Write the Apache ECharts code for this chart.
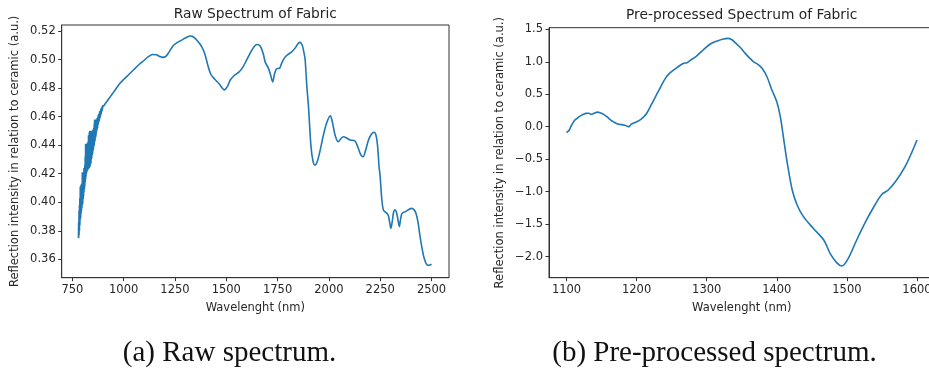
<!DOCTYPE html>
<html><head><meta charset="utf-8">
<script src="https://cdn.jsdelivr.net/npm/echarts@6/dist/echarts.min.js"></script>
<style>html,body{margin:0;padding:0;background:#fff;overflow:hidden}#c{width:929px;height:369px}</style>
</head><body><div id="c"></div>
<script>
// ---------- data ----------
const rawTitle = 'Raw Spectrum of Fabric';
const preTitle = 'Pre-processed Spectrum of Fabric';
const xName = 'Wavelenght (nm)';
const yName = 'Reflection intensity in relation to ceramic (a.u.)';
const captionA = '(a) Raw spectrum.';
const captionB = '(b) Pre-processed spectrum.';

// noisy start of the raw spectrum, sampled every 1 nm from 780 nm
const rawNoisyStart = 780;
const rawNoisyValues = [
  0.375,0.386,0.377,0.394,0.380,0.398,0.384,0.403,0.388,0.411,
  0.389,0.406,0.392,0.412,0.394,0.413,0.396,0.410,0.398,0.421,
  0.399,0.417,0.402,0.421,0.404,0.418,0.407,0.424,0.409,0.422,
  0.411,0.426,0.414,0.432,0.416,0.441,0.418,0.438,0.420,0.441,
  0.421,0.439,0.422,0.441,0.423,0.442,0.424,0.440,0.423,0.447,
  0.425,0.444,0.424,0.449,0.426,0.450,0.425,0.447,0.428,0.450,
  0.427,0.448,0.430,0.449,0.431,0.447,0.433,0.450,0.434,0.448,
  0.436,0.451,0.437,0.449,0.439,0.452,0.440,0.455,0.442,0.458,
  0.443,0.455,0.445,0.457,0.446,0.456,0.448,0.458,0.450,0.457,
  0.451,0.459,0.452,0.458,0.454,0.460,0.455,0.461,0.456,0.462,
  0.457,0.462,0.458,0.463,0.459,0.464,0.460,0.464,0.461,0.465,
  0.462,0.466,0.463,0.466,0.464,0.467,0.465,0.467,0.466,0.468,
  0.467
];
// smooth remainder of the raw spectrum
const rawWavelengths = [900,910,920,935,950,965,980,1000,1025,1050,1075,1100,1120,1140,1160,1175,1190,1205,1220,1240,
  1260,1285,1305,1325,1340,1360,1380,1395,1410,1425,1445,1465,1480,1490,1505,1520,1540,1560,1580,1600,
  1620,1635,1650,1665,1680,1690,1705,1715,1726,1735,1745,1760,1770,1785,1800,1820,1835,1850,1859,1870,
  1878,1884,1892,1901,1912,1922,1932,1942,1955,1973,1990,2007,2017,2030,2046,2058,2070,2088,2103,2127,
  2143,2156,2166,2178,2192,2206,2220,2230,2238,2244,2249,2257,2265,2275,2284,2291,2297,2302,2308,2315,
  2322,2329,2336,2343,2349,2356,2370,2385,2403,2414,2424,2434,2443,2452,2460,2468,2476,2484,2492,2500];
const rawValues = [0.467,0.469,0.471,0.474,0.477,0.480,0.483,0.486,0.4895,0.4930,0.4965,0.4995,0.5020,0.5035,0.5033,0.5022,0.5015,0.5022,0.5050,0.5095,
  0.5118,0.5138,0.5155,0.5165,0.5158,0.5130,0.5090,0.5040,0.4960,0.4895,0.4860,0.4830,0.4800,0.4787,0.4810,0.4858,0.4890,0.4910,0.4945,0.5000,
  0.5055,0.5090,0.5105,0.5095,0.5040,0.4980,0.4940,0.4895,0.4843,0.4900,0.4935,0.4940,0.4975,0.5015,0.5035,0.5055,0.5080,0.5112,0.5120,0.5100,
  0.5050,0.5000,0.4820,0.4658,0.4400,0.4290,0.4260,0.4280,0.4350,0.4470,0.4560,0.4606,0.4560,0.4470,0.4424,0.4445,0.4459,0.4448,0.4436,0.4429,
  0.4378,0.4330,0.4319,0.4360,0.4433,0.4475,0.4490,0.4465,0.4380,0.4250,0.4190,0.4030,0.3946,0.3930,0.3920,0.3898,0.3850,0.3817,0.3860,0.3930,
  0.3946,0.3930,0.3880,0.3829,0.3880,0.3922,0.3932,0.3945,0.3957,0.3948,0.3922,0.3860,0.3770,0.3690,0.3630,0.3590,0.3565,0.3557,0.3560,0.3565];

const preWavelengths = [1100,1104,1107,1111,1114,1118,1121,1125,1128,1132,1135,1137,1140,1144,1148,1153,1158,1163,1168,1173,
  1177,1182,1186,1189,1192,1197,1201,1206,1210,1214,1220,1227,1234,1241,1248,1258,1267,1272,1277,1282,
  1287,1296,1305,1315,1324,1330,1336,1341,1348,1355,1361,1367,1373,1379,1386,1393,1400,1405,1410,1415,
  1422,1429,1438,1452,1467,1476,1486,1493,1502,1514,1528,1540,1550,1559,1571,1583,1592,1600];
const preValues = [-0.092,-0.05,0.02,0.093,0.12,0.155,0.175,0.196,0.205,0.207,0.19,0.196,0.21,0.225,0.215,0.19,0.15,0.103,0.07,0.042,
  0.035,0.027,0.01,0.0,0.035,0.062,0.08,0.114,0.15,0.2,0.32,0.462,0.607,0.745,0.832,0.915,0.976,0.985,1.027,1.06,
  1.104,1.192,1.274,1.32,1.35,1.36,1.34,1.29,1.22,1.13,1.06,1.0,0.96,0.9,0.77,0.565,0.385,0.154,-0.204,-0.563,
  -0.974,-1.205,-1.385,-1.564,-1.744,-1.949,-2.1,-2.144,-2.026,-1.744,-1.436,-1.205,-1.04,-0.974,-0.82,-0.615,-0.41,-0.204];

const rawXTicks = [750,1000,1250,1500,1750,2000,2250,2500];
const rawYTicks = [0.36,0.38,0.40,0.42,0.44,0.46,0.48,0.50,0.52];
const preXTicks = [1100,1200,1300,1400,1500,1600];
const preYTicks = [-2.0,-1.5,-1.0,-0.5,0.0,0.5,1.0,1.5];

// ---------- build ----------
const noisyData = rawNoisyValues.map((v,i)=>[rawNoisyStart+i, v]);
const rawData = rawWavelengths.map((w,i)=>[w, rawValues[i]]);
const preData = preWavelengths.map((w,i)=>[w, preValues[i]]);

const LINE = '#1f77b4';
const INK = '#262626';
const FONT = 'DejaVu Sans';
const fmtMinus = v => (v<0?'\u2212':'') + Math.abs(v).toFixed(1);

function xAxis(gi, min, max, ticks){
  return {type:'value', gridIndex:gi, min, max,
    name:xName, nameLocation:'middle', nameGap:24,
    nameTextStyle:{color:INK, fontSize:11.5, fontFamily:FONT},
    axisLine:{show:true, onZero:false, lineStyle:{color:'#333', width:1}},
    axisTick:{show:true, inside:false, length:3.5, customValues:ticks, lineStyle:{color:'#333'}},
    axisLabel:{customValues:ticks, color:INK, fontSize:11.5, fontFamily:FONT, margin:6, formatter:v=>String(Math.round(v))},
    splitLine:{show:false}};
}
function yAxis(gi, min, max, ticks, fmt, gap){
  return {type:'value', gridIndex:gi, min, max,
    name:yName, nameLocation:'middle', nameGap:gap, nameRotate:90,
    nameTextStyle:{color:INK, fontSize:11.5, fontFamily:FONT},
    axisLine:{show:true, onZero:false, lineStyle:{color:'#333', width:1}},
    axisTick:{show:true, inside:false, length:3.5, customValues:ticks, lineStyle:{color:'#333'}},
    axisLabel:{customValues:ticks, color:INK, fontSize:11.5, fontFamily:FONT, margin:6, formatter:fmt},
    splitLine:{show:false}};
}

const chart = echarts.init(document.getElementById('c'), null, {renderer:'canvas'});
chart.setOption({
  animation:false,
  backgroundColor:'#fff',
  textStyle:{fontFamily:FONT},
  grid:[
    {left:61.7, top:25, width:387.3, height:252.7, show:true, borderColor:'#333', borderWidth:1, outerBoundsMode:'none', containLabel:false},
    {left:549, top:27.7, width:385.5, height:250, show:true, borderColor:'#333', borderWidth:1, outerBoundsMode:'none', containLabel:false}
  ],
  xAxis:[ xAxis(0, 698, 2585, rawXTicks), xAxis(1, 1075, 1625, preXTicks) ],
  yAxis:[ yAxis(0, 0.3471, 0.5242, rawYTicks, v=>v.toFixed(2), 41),
          yAxis(1, -2.325, 1.525, preYTicks, fmtMinus, 43) ],
  series:[
    {type:'line', xAxisIndex:0, yAxisIndex:0, data:noisyData, showSymbol:false, symbol:'none', smooth:false,
      lineStyle:{color:LINE, width:1.8}},
    {type:'line', xAxisIndex:0, yAxisIndex:0, data:rawData, showSymbol:false, symbol:'none', smooth:0.3,
      lineStyle:{color:LINE, width:1.6}},
    {type:'line', xAxisIndex:1, yAxisIndex:1, data:preData, showSymbol:false, symbol:'none', smooth:0.3,
      lineStyle:{color:LINE, width:1.6}}
  ],
  graphic:[
    {type:'text', x:255.3, y:14, style:{text:rawTitle, fill:INK, font:'13.8px "DejaVu Sans"', align:'center', verticalAlign:'middle'}},
    {type:'text', x:741.7, y:15.7, style:{text:preTitle, fill:INK, font:'13.8px "DejaVu Sans"', align:'center', verticalAlign:'middle'}},
    {type:'text', x:229.5, y:353, style:{text:captionA, fill:'#111', font:'29px "Liberation Serif"', align:'center', verticalAlign:'middle'}},
    {type:'text', x:714.5, y:353, style:{text:captionB, fill:'#111', font:'29px "Liberation Serif"', align:'center', verticalAlign:'middle'}}
  ]
});
</script>
</body></html>
